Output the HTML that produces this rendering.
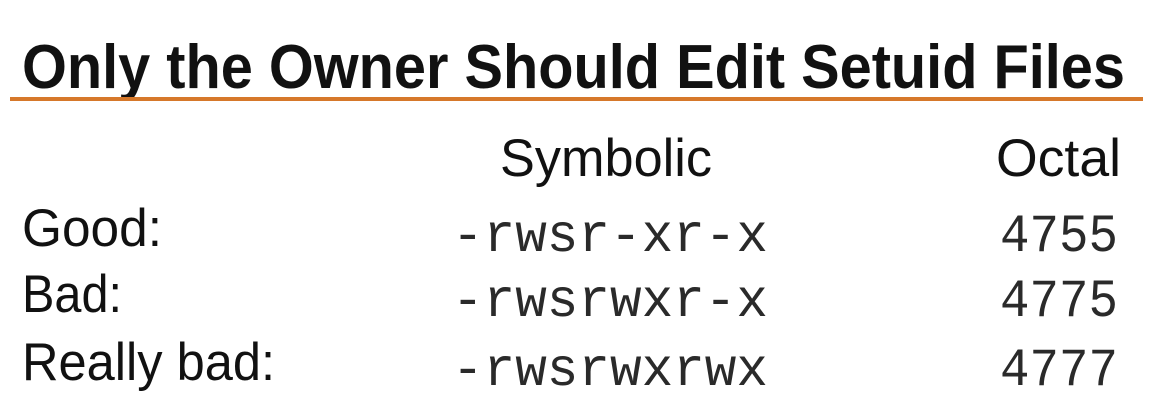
<!DOCTYPE html>
<html><head><meta charset="utf-8"><style>
html,body{margin:0;padding:0;background:#fff;}
svg{display:block}
</style></head><body>
<svg width="1155" height="413" xmlns="http://www.w3.org/2000/svg">
<rect width="1155" height="413" fill="#fff"/>
<text x="22" y="88" font-family="Liberation Sans, sans-serif" font-weight="bold" font-size="62" fill="#111" textLength="1103" lengthAdjust="spacingAndGlyphs">Only the Owner Should Edit Setuid Files</text>
<rect x="10" y="97" width="1133" height="4" fill="#d6782a"/>
<g font-family="Liberation Sans, sans-serif" font-size="53" fill="#111">
<text x="500" y="176" textLength="212" lengthAdjust="spacingAndGlyphs">Symbolic</text>
<text x="996" y="176" textLength="125" lengthAdjust="spacingAndGlyphs">Octal</text>
<text x="22" y="246" textLength="140" lengthAdjust="spacingAndGlyphs">Good:</text>
<text x="22" y="312" textLength="100" lengthAdjust="spacingAndGlyphs">Bad:</text>
<text x="22" y="380" textLength="253" lengthAdjust="spacingAndGlyphs">Really bad:</text>
</g>
<g font-family="Liberation Mono, monospace" font-size="54" fill="#2a2a2a">
<text x="452" y="251" textLength="316" lengthAdjust="spacingAndGlyphs">-rwsr-xr-x</text>
<text x="452" y="316" textLength="316" lengthAdjust="spacingAndGlyphs">-rwsrwxr-x</text>
<text x="452" y="385" textLength="316" lengthAdjust="spacingAndGlyphs">-rwsrwxrwx</text>
<text x="1000" y="251" textLength="118" lengthAdjust="spacingAndGlyphs">4755</text>
<text x="1000" y="316" textLength="118" lengthAdjust="spacingAndGlyphs">4775</text>
<text x="1000" y="385" textLength="118" lengthAdjust="spacingAndGlyphs">4777</text>
</g>
</svg>
</body></html>
